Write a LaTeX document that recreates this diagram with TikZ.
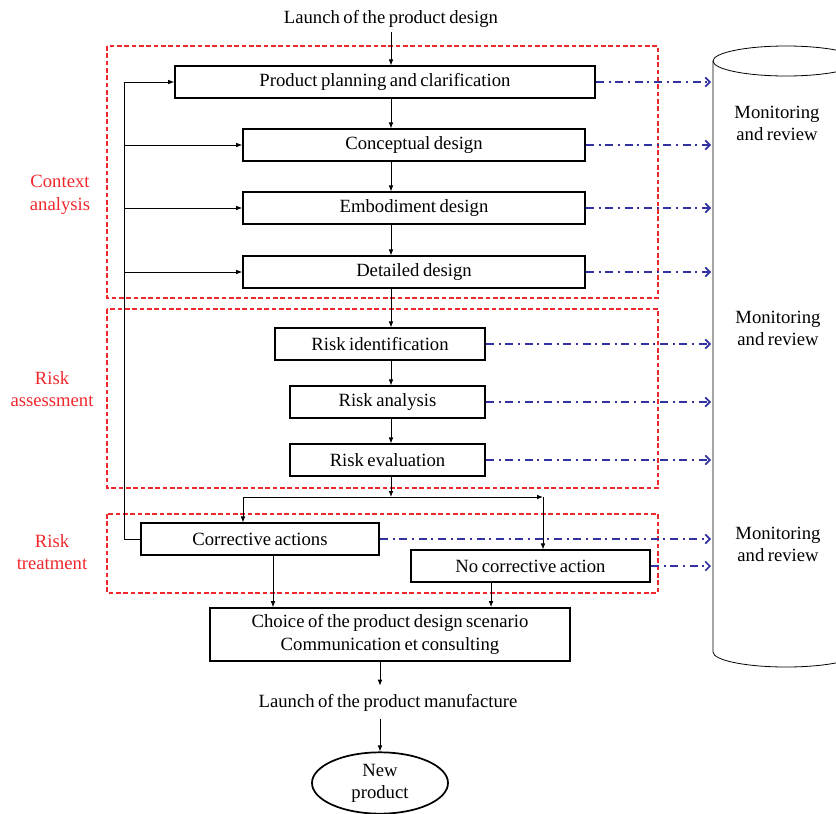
\documentclass[tikz,border=0pt]{standalone}
\usepackage{fontspec}
\setmainfont[WordSpace={0.75,0.5,0.5}]{Liberation Serif}
\usepackage{xcolor}
\usetikzlibrary{arrows.meta,shapes.geometric}
\definecolor{zonered}{RGB}{240,40,45}
\definecolor{monblue}{RGB}{50,50,160}
\tikzset{
	stage/.style={draw,line width=1.3pt,inner sep=0pt,minimum height=23.5pt,font=\fontsize{14}{17}\selectfont},
	flow/.style={line width=0.6pt,-{Latex[length=4.5pt,width=3.5pt]}},
	mon/.style={monblue,line width=1.2pt,dash pattern=on 6pt off 3.5pt on 1.5pt off 3.5pt,-{Straight Barb[length=3.5pt,width=7pt]}},
	zone/.style={zonered,line width=1.2pt,dash pattern=on 3.5pt off 2pt},
	zonelabel/.style={zonered,align=center,font=\fontsize{14}{17}\selectfont},
	plain/.style={align=center,font=\fontsize{14}{16.5}\selectfont}
}
\begin{document}
\begin{tikzpicture}[x=0.75pt,y=-0.75pt]
	\useasboundingbox (0,0) rectangle (836,814);
	% monitoring cylinder
	\begin{scope}
		\clip (0,0) rectangle (836,814);
		\draw[line width=0.6pt] (786,61) ellipse [x radius=73, y radius=15];
		\draw[line width=0.6pt] (713,61) -- (713,652) arc[start angle=180, end angle=0, x radius=73, y radius=15] -- (859,61);
	\end{scope}
	\node[plain] (mon1) at (777,123) {Monitoring\\and review};
	\node[plain] (mon2) at (778,328) {Monitoring\\and review};
	\node[plain] (mon3) at (778,544) {Monitoring\\and review};
	\coordinate (cyl) at (711,0);
	% zones
	\draw[zone] (107,46) rectangle (658,298);
	\draw[zone] (107,309) rectangle (658,488);
	\draw[zone] (107,514) rectangle (658,593);
	\node[zonelabel] (ctx) at (60,195) {Context\\analysis};
	\node[zonelabel] (ass) at (52,389) {Risk\\assessment};
	\node[zonelabel] (trt) at (52,552) {Risk\\treatment};
	% stages
	\node[plain] (launchD) at (391,19) {Launch of the product design};
	\node[stage,minimum width=315pt] (plan) at (385,82) {Product planning and clarification};
	\node[stage,minimum width=256.5pt] (concept) at (414,145) {Conceptual design};
	\node[stage,minimum width=256.5pt] (embod) at (414,208) {Embodiment design};
	\node[stage,minimum width=256.5pt] (detail) at (414,272) {Detailed design};
	\node[stage,minimum width=157.5pt] (riskid) at (380,344) {Risk identification};
	\node[stage,minimum width=146.25pt] (riskan) at (387.5,402) {Risk analysis};
	\node[stage,minimum width=146.25pt] (riskev) at (387.5,460) {Risk evaluation};
	\node[stage,minimum width=178.5pt] (corr) at (260,539) {Corrective actions};
	\node[stage,minimum width=179.25pt] (nocorr) at (530.5,566) {No corrective action};
	\node[stage,minimum width=270pt,minimum height=39.75pt,align=center] (choice) at (390,634.5) {Choice of the product design scenario\\Communication et consulting};
	\node[plain] (launchM) at (388,703) {Launch of the product manufacture};
	\node[draw,ellipse,line width=1.3pt,inner sep=0pt,minimum width=102pt,minimum height=46pt,align=center,font=\fontsize{14}{16.5}\selectfont] (newp) at (380,783) {New\\product};
	% main flow
	\draw[flow] (launchD) -- (launchD |- plan.north);
	\draw[flow] (plan.south -| launchD) -- (launchD |- concept.north);
	\draw[flow] (concept.south -| launchD) -- (launchD |- embod.north);
	\draw[flow] (embod.south -| launchD) -- (launchD |- detail.north);
	\draw[flow] (detail.south -| launchD) -- (launchD |- riskid.north);
	\draw[flow] (riskid.south -| launchD) -- (launchD |- riskan.north);
	\draw[flow] (riskan.south -| launchD) -- (launchD |- riskev.north);
	% split after evaluation
	\coordinate (split) at (391,497);
	\coordinate (lft) at (243,497);
	\coordinate (rgt) at (543,497);
	\draw[flow] (riskev.south -| launchD) -- (split);
	\draw[flow] (split) -- (lft) -- (lft |- corr.north);
	\draw[flow] (split) -- (rgt);
	\draw[flow] (rgt) -- (rgt |- nocorr.north);
	% feedback loop
	\coordinate (fbx) at (124,82);
	\draw[flow] (corr.west) -| (fbx) -- (plan.west);
	\draw[flow] (fbx |- concept) -- (concept.west);
	\draw[flow] (fbx |- embod) -- (embod.west);
	\draw[flow] (fbx |- detail) -- (detail.west);
	% to choice and manufacture
	\draw[flow] ([xshift=9.75pt]corr.south) -- ([xshift=9.75pt]corr.south |- choice.north);
	\draw[flow] ([xshift=-29.6pt]nocorr.south) -- ([xshift=-29.6pt]nocorr.south |- choice.north);
	\draw[flow] (choice.south -| newp) -- ([yshift=3pt]launchM.north -| newp);
	\draw[flow] ([yshift=-2pt]launchM.south -| newp) -- (newp);
	% monitoring links
	\foreach \s in {plan,concept,embod,detail,riskid,riskan,riskev,corr,nocorr}
		\draw[mon] (\s.east) -- (\s.east -| cyl);
\end{tikzpicture}
\end{document}
